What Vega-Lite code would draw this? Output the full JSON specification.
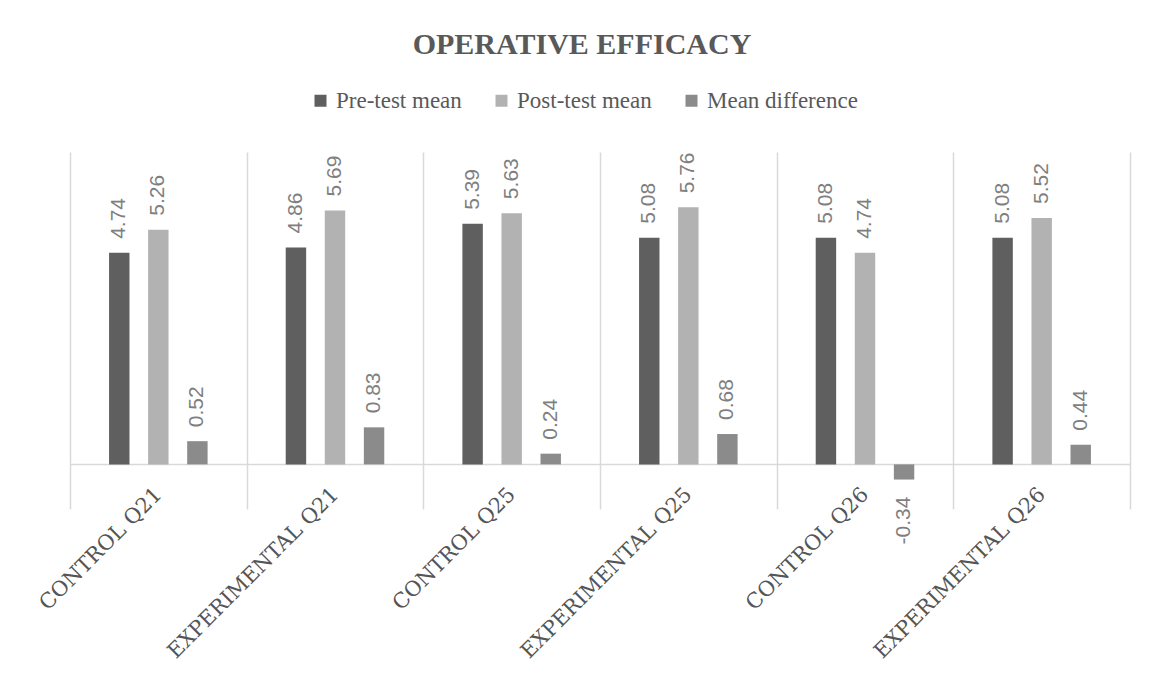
{
  "$schema": "https://vega.github.io/schema/vega-lite/v6.json",
  "width": 1060,
  "height": 357,
  "autosize": {"type": "none"},
  "padding": {"left": 70, "top": 152, "right": 23, "bottom": 183},
  "background": "white",
  "title": {
    "text": "OPERATIVE EFFICACY",
    "font": "Liberation Serif",
    "fontSize": 30,
    "fontWeight": "bold",
    "color": "#595959",
    "anchor": "middle",
    "dx": -18,
    "baseline": "alphabetic",
    "offset": 5
  },
  "config": {
    "view": {"stroke": null},
    "font": "Liberation Serif"
  },
  "data": {
    "values": [
      {"group": "CONTROL Q21", "series": "Pre-test mean", "value": 4.74},
      {"group": "CONTROL Q21", "series": "Post-test mean", "value": 5.26},
      {"group": "CONTROL Q21", "series": "Mean difference", "value": 0.52},
      {"group": "EXPERIMENTAL Q21", "series": "Pre-test mean", "value": 4.86},
      {"group": "EXPERIMENTAL Q21", "series": "Post-test mean", "value": 5.69},
      {"group": "EXPERIMENTAL Q21", "series": "Mean difference", "value": 0.83},
      {"group": "CONTROL Q25", "series": "Pre-test mean", "value": 5.39},
      {"group": "CONTROL Q25", "series": "Post-test mean", "value": 5.63},
      {"group": "CONTROL Q25", "series": "Mean difference", "value": 0.24},
      {"group": "EXPERIMENTAL Q25", "series": "Pre-test mean", "value": 5.08},
      {"group": "EXPERIMENTAL Q25", "series": "Post-test mean", "value": 5.76},
      {"group": "EXPERIMENTAL Q25", "series": "Mean difference", "value": 0.68},
      {"group": "CONTROL Q26", "series": "Pre-test mean", "value": 5.08},
      {"group": "CONTROL Q26", "series": "Post-test mean", "value": 4.74},
      {"group": "CONTROL Q26", "series": "Mean difference", "value": -0.34},
      {"group": "EXPERIMENTAL Q26", "series": "Pre-test mean", "value": 5.08},
      {"group": "EXPERIMENTAL Q26", "series": "Post-test mean", "value": 5.52},
      {"group": "EXPERIMENTAL Q26", "series": "Mean difference", "value": 0.44}
    ]
  },
  "encoding": {
    "x": {
      "field": "group",
      "type": "nominal",
      "sort": ["CONTROL Q21", "EXPERIMENTAL Q21", "CONTROL Q25", "EXPERIMENTAL Q25", "CONTROL Q26", "EXPERIMENTAL Q26"],
      "scale": {"paddingInner": 0, "paddingOuter": 0},
      "axis": {
        "title": null,
        "domain": false,
        "ticks": false,
        "grid": true,
        "tickBand": "extent",
        "gridColor": "#d9d9d9",
        "gridWidth": 1.5,
        "labelAngle": -45,
        "labelAlign": "right",
        "labelBaseline": "middle",
        "labelPadding": -18,
        "labelFont": "DejaVu Serif",
        "labelFontSize": 21,
        "labelColor": "#555555",
        "labelLimit": 400,
        "labelOverlap": false
      }
    },
    "xOffset": {
      "field": "series",
      "type": "nominal",
      "sort": ["Pre-test mean", "Post-test mean", "Mean difference"],
      "scale": {"paddingInner": 0.477, "paddingOuter": 1.17}
    },
    "y": {
      "field": "value",
      "type": "quantitative",
      "scale": {"domain": [-1, 7], "nice": false},
      "axis": {
        "title": null,
        "values": [0],
        "grid": true,
        "gridColor": "#d9d9d9",
        "gridWidth": 1.5,
        "labels": false,
        "ticks": false,
        "domain": false
      }
    }
  },
  "layer": [
    {
      "mark": {"type": "bar"},
      "encoding": {
        "color": {
          "field": "series",
          "type": "nominal",
          "sort": ["Pre-test mean", "Post-test mean", "Mean difference"],
          "scale": {
            "domain": ["Pre-test mean", "Post-test mean", "Mean difference"],
            "range": ["#5f5f5f", "#b2b2b2", "#8b8b8b"]
          },
          "legend": {
            "title": null,
            "orient": "none",
            "legendX": 239,
            "legendY": -63,
            "direction": "horizontal",
            "symbolType": "square",
            "symbolSize": 144,
            "symbolStrokeWidth": 0,
            "labelFont": "Liberation Serif",
            "labelFontSize": 23,
            "labelColor": "#595959",
            "labelOffset": 4,
            "columnPadding": 28,
            "padding": 0,
            "labelLimit": 300
          }
        }
      }
    },
    {
      "transform": [
        {"filter": "datum.value >= 0"},
        {"calculate": "format(datum.value, '.2f')", "as": "label"}
      ],
      "mark": {
        "type": "text",
        "angle": -90,
        "align": "left",
        "baseline": "middle",
        "dx": 14,
        "font": "Liberation Sans",
        "fontSize": 21,
        "color": "#7f7f7f"
      },
      "encoding": {
        "text": {"field": "label", "type": "nominal"}
      }
    },
    {
      "transform": [
        {"filter": "datum.value < 0"},
        {"calculate": "'-' + format(-datum.value, '.2f')", "as": "label"}
      ],
      "mark": {
        "type": "text",
        "angle": -90,
        "align": "right",
        "baseline": "middle",
        "dx": -17,
        "font": "Liberation Sans",
        "fontSize": 21,
        "color": "#7f7f7f"
      },
      "encoding": {
        "text": {"field": "label", "type": "nominal"}
      }
    }
  ]
}
